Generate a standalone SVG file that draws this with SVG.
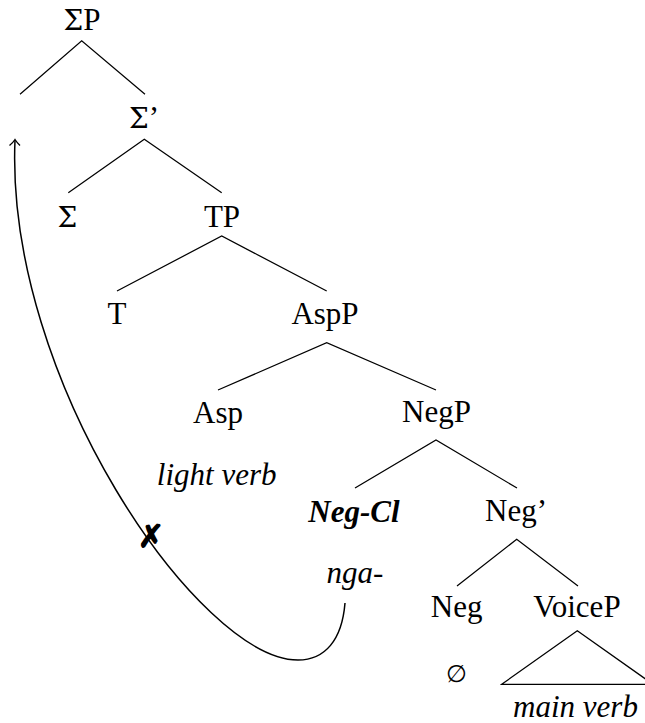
<svg xmlns="http://www.w3.org/2000/svg" width="645" height="723" viewBox="0 0 645 723">
<style>
text{font-family:"Liberation Serif","Times New Roman",serif;font-size:31px;fill:#000;text-anchor:middle}
.it{font-style:italic}
.bi{font-style:italic;font-weight:bold}
.sg{font-family:"DejaVu Serif","Liberation Serif",serif;font-size:28px}
.e{stroke:#000;stroke-width:1.25;fill:none}
</style>
<rect width="645" height="723" fill="#fff"/>
<g id="connectors" class="e">
<path d="M20,94.3 L81.7,40.7 L145,94.3"/>
<path d="M68.3,192.7 L144.3,139.3 L221.7,192.7"/>
<path d="M117,291 L221.7,236 L326.7,291"/>
<path d="M218,390 L326.7,342.7 L436,390"/>
<path d="M355,488 L436,440 L517,488"/>
<path d="M457,586 L516.7,539.3 L578,586"/>
<path d="M501.7,684.3 L577.3,630.7 L653,684.3 Z"/>
<path id="movement" d="M345,603 C342,640 325,660 298,660 C200,660 5,380 15,140" stroke-width="1.5"/>
<path d="M9.5,145.5 Q13.5,142 15,139.5 Q16.5,142 20,145.5" stroke-width="1.3"/>
</g>
<g id="n-SigmaP"><text x="82" y="30"><tspan class="sg">Σ</tspan>P</text></g>
<g id="n-Sigma-bar"><text x="144" y="128"><tspan class="sg">Σ</tspan>’</text></g>
<g id="n-Sigma"><text x="67.5" y="227" class="sg">Σ</text></g>
<g id="n-TP"><text x="222" y="227">TP</text></g>
<g id="n-T"><text x="117" y="324">T</text></g>
<g id="n-AspP"><text x="325" y="324">AspP</text></g>
<g id="n-Asp"><text x="218" y="423">Asp</text></g>
<g id="n-NegP"><text x="436.5" y="422">NegP</text></g>
<g id="n-lightverb"><text class="it" x="216.7" y="485">light verb</text></g>
<g id="n-NegCl"><text class="bi" x="354" y="522">Neg-Cl</text></g>
<g id="n-Neg-bar"><text x="516" y="521">Neg’</text></g>
<g id="n-nga"><text class="it" x="355" y="583">nga-</text></g>
<g id="n-Neg"><text x="456.7" y="617">Neg</text></g>
<g id="n-VoiceP"><text x="577" y="617">VoiceP</text></g>
<g id="n-empty"><text x="456" y="682" style="font-family:'DejaVu Serif','Liberation Serif',serif;font-size:24px">∅</text></g>
<g id="n-mainverb"><text class="it" x="575.5" y="717">main verb</text></g>
<g id="x-mark"><text x="138" y="547" style="font-family:'DejaVu Sans',sans-serif;font-size:31px;text-anchor:start;stroke:#000;stroke-width:1.4">✗</text></g>
</svg>
